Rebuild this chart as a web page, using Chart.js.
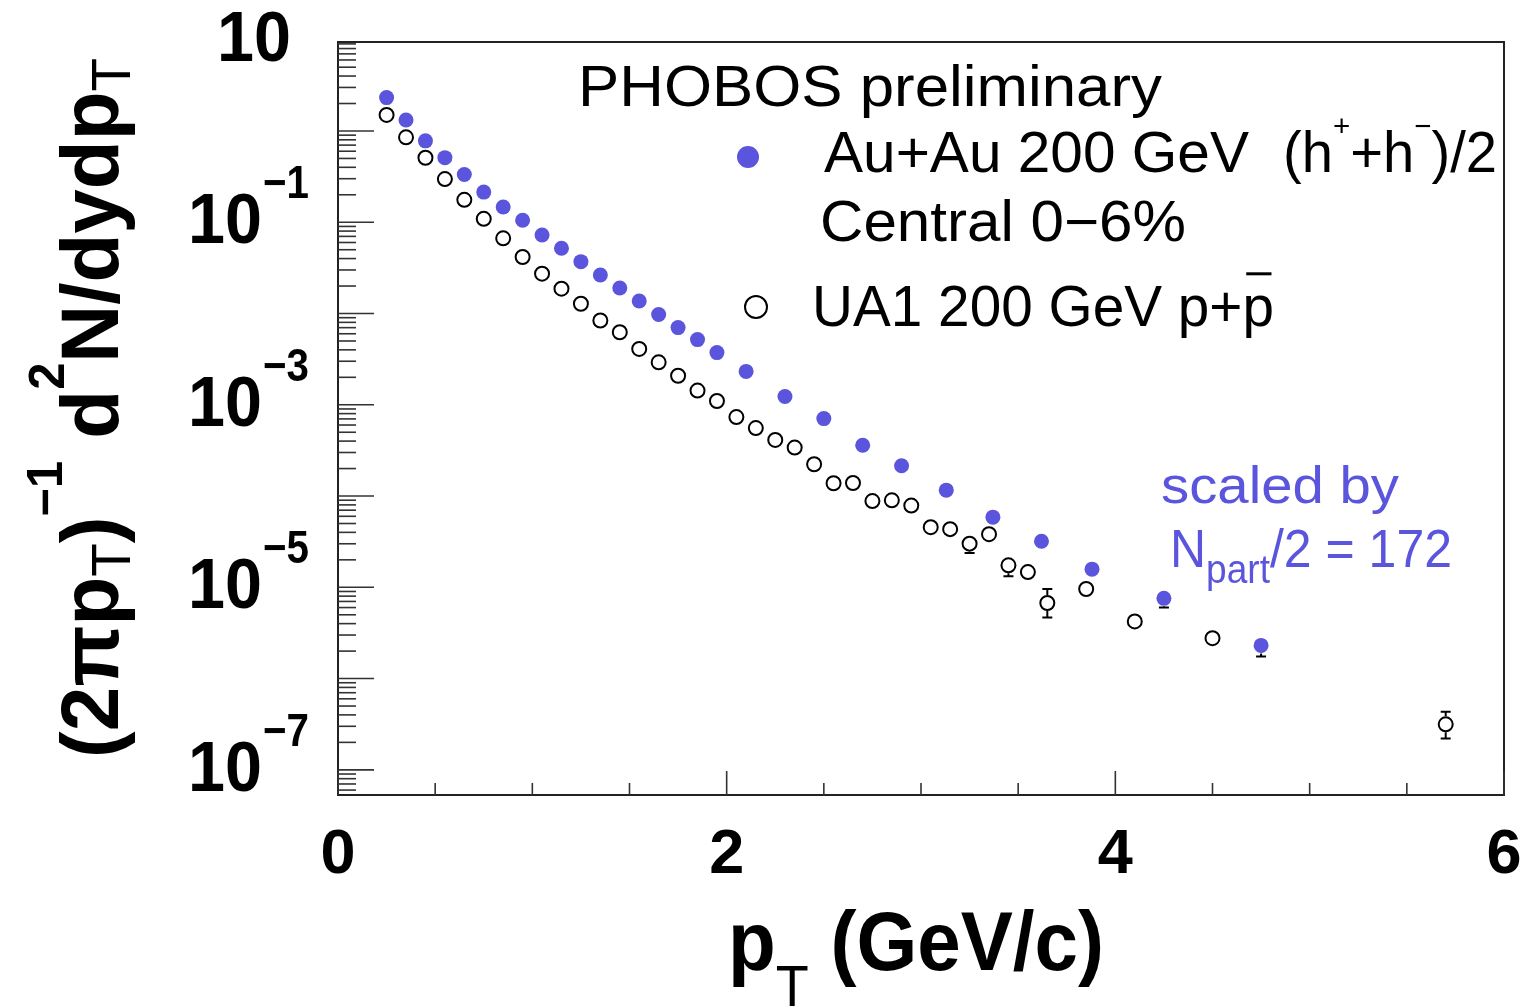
<!DOCTYPE html>
<html><head><meta charset="utf-8">
<script src="https://cdn.jsdelivr.net/npm/chart.js@4.4.1/dist/chart.umd.min.js"></script>
<style>html,body{margin:0;padding:0;background:#fff;overflow:hidden}canvas{display:block}</style>
</head><body>
<canvas id="c" width="1526" height="1007"></canvas>
<script>
// ---- data ----
const auauPt = [0.25,0.35,0.45,0.55,0.65,0.75,0.85,0.95,1.05,1.15,1.25,1.35,1.45,1.55,1.65,1.75,1.85,1.95,2.1,2.3,2.5,2.7,2.9,3.13,3.37,3.62,3.88,4.25,4.75];
const auauY  = [2.32,1.32,0.78,0.51,0.334,0.214,0.147,0.105,0.0726,0.0518,0.0370,0.0264,0.0190,0.0137,0.00975,0.00701,0.00518,0.00373,0.00232,0.00123,7.06e-4,3.6e-4,2.15e-4,1.16e-4,5.87e-5,3.2e-5,1.58e-5,7.57e-6,2.31e-6];
const auauErrLo = [null,null,null,null,null,null,null,null,null,null,null,null,null,null,null,null,null,null,null,null,null,null,null,null,null,null,null,6.0e-6,1.75e-6];
const auauErrHi = [null,null,null,null,null,null,null,null,null,null,null,null,null,null,null,null,null,null,null,null,null,null,null,null,null,null,null,8.6e-6,2.6e-6];

const ua1Pt = [0.25,0.35,0.45,0.55,0.65,0.75,0.85,0.95,1.05,1.15,1.25,1.35,1.45,1.55,1.65,1.75,1.85,1.95,2.05,2.15,2.25,2.35,2.45,2.55,2.65,2.75,2.85,2.95,3.05,3.15,3.25,3.35,3.45,3.55,3.65,3.85,4.1,4.5,5.7];
const ua1Y  = [1.50,0.853,0.509,0.297,0.176,0.109,0.0667,0.0416,0.0273,0.0187,0.0128,0.00838,0.00623,0.00409,0.00292,0.00208,0.00143,0.00110,7.33e-4,5.55e-4,4.12e-4,3.40e-4,2.23e-4,1.38e-4,1.39e-4,8.81e-5,8.97e-5,7.87e-5,4.56e-5,4.34e-5,3.01e-5,3.82e-5,1.74e-5,1.47e-5,6.73e-6,9.58e-6,4.23e-6,2.77e-6,3.15e-7];
const ua1ErrLo = [null,null,null,null,null,null,null,null,null,null,null,null,null,null,null,null,null,null,null,null,null,null,null,null,null,null,null,null,null,null,2.38e-5,null,1.32e-5,null,4.67e-6,null,null,null,2.21e-7];
const ua1ErrHi = [null,null,null,null,null,null,null,null,null,null,null,null,null,null,null,null,null,null,null,null,null,null,null,null,null,null,null,null,null,null,3.4e-5,null,1.95e-5,null,9.6e-6,null,null,null,4.34e-7];

const xTickLabels = [0,2,4,6];
const yTickExponents = [1,-1,-3,-5,-7];
const xMin = 0, xMax = 6, yMin = 5.3e-8, yMax = 9.44;

const BLUE = '#5a55dc';
const FONT = '"Liberation Sans", Arial, Helvetica, sans-serif';

function fnt(size, bold){ return (bold ? 'bold ' : '') + size + 'px ' + FONT; }
function richWidth(ctx, parts){
  let w = 0;
  for (const p of parts){ ctx.font = fnt(p.s, p.b); w += ctx.measureText(p.t).width; }
  return w;
}
function drawRich(ctx, parts, x, y, o){
  o = o || {};
  const w = richWidth(ctx, parts);
  const hs = o.width ? o.width / w : 1;
  ctx.save();
  ctx.translate(x, y);
  if (o.rotate) ctx.rotate(o.rotate);
  ctx.scale(hs, 1);
  ctx.fillStyle = o.color || '#000';
  ctx.strokeStyle = o.color || '#000';
  ctx.textBaseline = 'alphabetic';
  ctx.textAlign = 'left';
  let cx = o.align === 'center' ? -w/2 : (o.align === 'right' ? -w : 0);
  for (const p of parts){
    ctx.font = fnt(p.s, p.b);
    const pw = ctx.measureText(p.t).width;
    ctx.fillText(p.t, cx, p.dy || 0);
    if (p.over){
      ctx.lineWidth = 3;
      ctx.beginPath();
      ctx.moveTo(cx + pw*0.12, (p.dy||0) - p.s*0.9);
      ctx.lineTo(cx + pw*0.92, (p.dy||0) - p.s*0.9);
      ctx.stroke();
    }
    cx += pw;
  }
  ctx.restore();
}

const axesPlugin = {
  id: 'rootAxes',
  beforeDatasetsDraw(chart){
    const ctx = chart.ctx, a = chart.chartArea;
    const xs = chart.scales.x, ys = chart.scales.y;
    ctx.save();
    ctx.strokeStyle = '#222';
    ctx.lineWidth = 2;
    ctx.strokeRect(a.left, a.top, a.right - a.left, a.bottom - a.top);
    ctx.lineWidth = 1.6;
    ctx.strokeStyle = '#333';
    for (let i = 0; i <= 12; i++){
      const v = i * 0.5;
      const px = xs.getPixelForValue(v);
      const len = (i % 4 === 0) ? 24 : 12;
      ctx.beginPath(); ctx.moveTo(px, a.bottom); ctx.lineTo(px, a.bottom - len); ctx.stroke();
    }
    for (let k = -8; k <= 1; k++){
      for (let m = 1; m <= 9; m++){
        const v = m * Math.pow(10, k);
        if (v < yMin || v > yMax) continue;
        const py = ys.getPixelForValue(v);
        const len = m === 1 ? 36 : 18;
        ctx.beginPath(); ctx.moveTo(a.left, py); ctx.lineTo(a.left + len, py); ctx.stroke();
      }
    }
    ctx.restore();
  },
  afterDatasetsDraw(chart){
    const ctx = chart.ctx;
    const xs = chart.scales.x, ys = chart.scales.y;
    const sets = [
      {pt: ua1Pt, y: ua1Y, lo: ua1ErrLo, hi: ua1ErrHi, color: '#000', r: 8},
      {pt: auauPt, y: auauY, lo: auauErrLo, hi: auauErrHi, color: '#000', r: 8}
    ];
    ctx.save();
    ctx.lineWidth = 2;
    for (const s of sets){
      ctx.strokeStyle = s.color;
      for (let i = 0; i < s.pt.length; i++){
        if (s.lo[i] == null) continue;
        const px = xs.getPixelForValue(s.pt[i]);
        const py = ys.getPixelForValue(s.y[i]);
        const pl = ys.getPixelForValue(s.lo[i]);
        const ph = ys.getPixelForValue(s.hi[i]);
        ctx.beginPath();
        if (pl > py + s.r){ ctx.moveTo(px, py + s.r); ctx.lineTo(px, pl); ctx.moveTo(px - 5, pl); ctx.lineTo(px + 5, pl); }
        if (ph < py - s.r){ ctx.moveTo(px, py - s.r); ctx.lineTo(px, ph); ctx.moveTo(px - 5, ph); ctx.lineTo(px + 5, ph); }
        ctx.stroke();
      }
    }
    ctx.restore();
  },
  afterDraw(chart){
    const ctx = chart.ctx;
    const xs = chart.scales.x, ys = chart.scales.y;
    for (const v of xTickLabels){
      drawRich(ctx, [{t: String(v), s: 63, b: true}], xs.getPixelForValue(v), 873, {align: 'center'});
    }
    for (const e of yTickExponents){
      const py = ys.getPixelForValue(Math.pow(10, e));
      if (e === 1){
        drawRich(ctx, [{t: '10', s: 70, b: true}], 291, py + 21, {align: 'right', width: 74});
      } else {
        drawRich(ctx, [{t: '10', s: 70, b: true}], 262, py + 21, {align: 'right', width: 74});
        drawRich(ctx, [{t: '\u2212' + Math.abs(e), s: 46, b: true}], 263, py - 24, {width: 46});
      }
    }
    drawRich(ctx, [
      {t: 'p', s: 84, b: true},
      {t: 'T', s: 58, b: false, dy: 36},
      {t: ' (GeV/c)', s: 84, b: true}
    ], 728, 970, {width: 376});
    const S = 82;
    drawRich(ctx, [
      {t: '(2\u03c0p', s: S, b: true},
      {t: 'T', s: 56, b: false, dy: 12},
      {t: ')', s: S, b: true},
      {t: '\u22121', s: 50, b: true, dy: -56},
      {t: ' d', s: S, b: true},
      {t: '2', s: 50, b: true, dy: -54},
      {t: 'N/dydp', s: S, b: true},
      {t: 'T', s: 56, b: false, dy: 12}
    ], 118, 758, {rotate: -Math.PI/2, width: 700});

    drawRich(ctx, [{t: 'PHOBOS preliminary', s: 58}], 578, 106, {width: 584});
    ctx.save();
    ctx.fillStyle = BLUE;
    ctx.beginPath(); ctx.arc(748, 157, 11, 0, Math.PI*2); ctx.fill();
    ctx.strokeStyle = '#000'; ctx.lineWidth = 2;
    ctx.beginPath(); ctx.arc(756, 307, 11, 0, Math.PI*2); ctx.stroke();
    ctx.restore();
    drawRich(ctx, [{t: 'Au+Au 200 GeV', s: 57}], 824, 172, {width: 425});
    drawRich(ctx, [
      {t: '(h', s: 57}, {t: '+', s: 30, dy: -36}, {t: '+h', s: 57}, {t: '\u2212', s: 30, dy: -36}, {t: ')/2', s: 57}
    ], 1283, 172, {width: 214});
    drawRich(ctx, [{t: 'Central 0\u22126%', s: 57}], 820, 241, {width: 366});
    drawRich(ctx, [{t: 'UA1 200 GeV p+', s: 58}, {t: 'p', s: 58, over: true}], 812, 326, {width: 462});
    drawRich(ctx, [{t: 'scaled by', s: 52}], 1161, 503, {width: 238, color: BLUE});
    drawRich(ctx, [
      {t: 'N', s: 54}, {t: 'part', s: 40, dy: 16}, {t: '/2 = 172', s: 54}
    ], 1170, 567, {width: 282, color: BLUE});
  }
};

const ctx = document.getElementById('c').getContext('2d');
new Chart(ctx, {
  type: 'scatter',
  data: {
    datasets: [
      {
        label: 'UA1 200 GeV p+p\u0304',
        data: ua1Pt.map((x, i) => ({x, y: ua1Y[i]})),
        pointStyle: 'circle', pointRadius: 7, pointBorderWidth: 2,
        borderColor: '#000', backgroundColor: 'rgba(0,0,0,0)'
      },
      {
        label: 'Au+Au 200 GeV (h+ + h-)/2, Central 0-6%',
        data: auauPt.map((x, i) => ({x, y: auauY[i]})),
        pointStyle: 'circle', pointRadius: 7.5, pointBorderWidth: 0,
        borderColor: BLUE, backgroundColor: BLUE
      }
    ]
  },
  options: {
    responsive: false,
    devicePixelRatio: 1,
    animation: false,
    layout: {padding: {left: 338, top: 42, right: 22, bottom: 212}},
    plugins: {legend: {display: false}, tooltip: {enabled: false}},
    scales: {
      x: {type: 'linear', min: xMin, max: xMax, display: false},
      y: {type: 'logarithmic', min: yMin, max: yMax, display: false}
    }
  },
  plugins: [axesPlugin]
});
</script>
</body></html>
